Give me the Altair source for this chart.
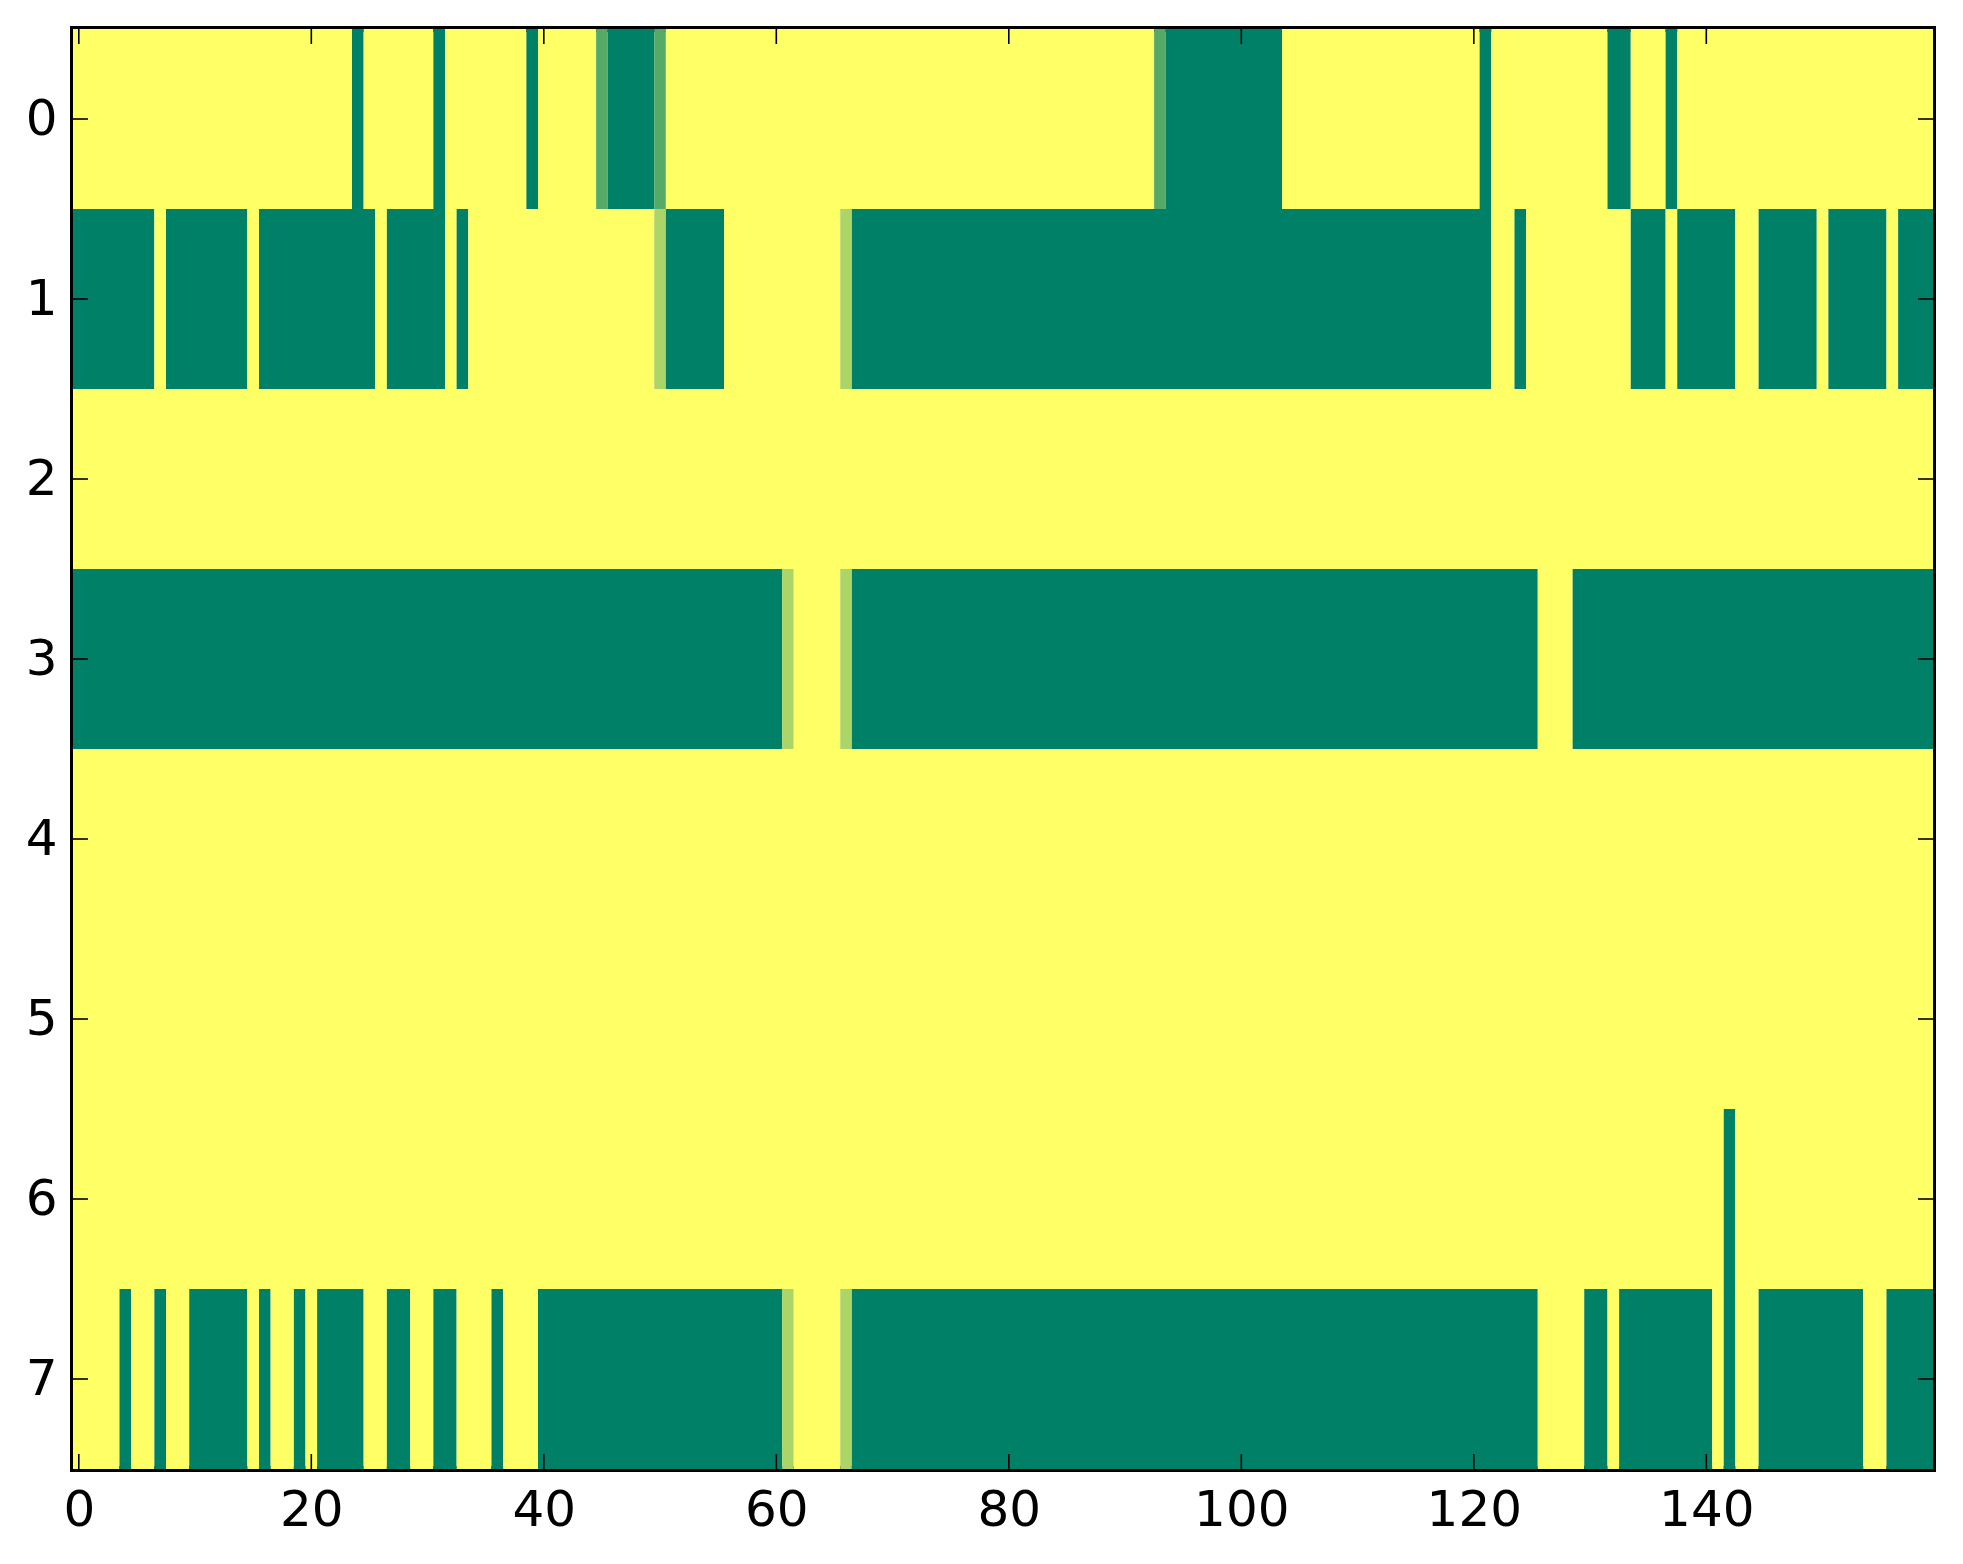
import altair as alt
import pandas as pd

# ---- data (value 0 = green, 1 = yellow) ----
n_cols = 160
row_labels = [0, 1, 2, 3, 4, 5, 6, 7]
x_tick_values = [0, 20, 40, 60, 80, 100, 120, 140]

# non-yellow segments per row: (first column, last column, value)
row0 = [(24, 24, 0), (31, 31, 0), (39, 39, 0), (45, 45, 0.33), (46, 49, 0),
        (50, 50, 0.33), (93, 93, 0.33), (94, 103, 0), (121, 121, 0),
        (132, 133, 0), (137, 137, 0)]
row1 = [(0, 6, 0), (8, 14, 0), (16, 25, 0), (27, 31, 0), (33, 33, 0),
        (50, 50, 0.67), (51, 55, 0), (66, 66, 0.67), (67, 121, 0),
        (124, 124, 0), (134, 136, 0), (138, 142, 0), (145, 149, 0),
        (151, 155, 0), (157, 159, 0)]
row2 = []
row3 = [(0, 60, 0), (61, 61, 0.67), (66, 66, 0.67), (67, 125, 0), (129, 159, 0)]
row4 = []
row5 = []
row6 = [(142, 142, 0)]
row7 = [(4, 4, 0), (7, 7, 0), (10, 14, 0), (16, 16, 0), (19, 19, 0),
        (21, 24, 0), (27, 28, 0), (31, 32, 0), (36, 36, 0), (40, 60, 0),
        (61, 61, 0.67), (66, 66, 0.67), (67, 125, 0), (130, 131, 0),
        (133, 140, 0), (142, 142, 0), (145, 153, 0), (156, 159, 0)]
rows = [row0, row1, row2, row3, row4, row5, row6, row7]

records = []
for r, segs in zip(row_labels, rows):
    pos = 0
    for a, b, v in sorted(segs):
        if a > pos:
            records.append(dict(row=r, x0=pos - 0.5, x1=a - 0.5, v=1.0))
        records.append(dict(row=r, x0=a - 0.5, x1=b + 0.5, v=float(v)))
        pos = b + 1
    if pos < n_cols:
        records.append(dict(row=r, x0=pos - 0.5, x1=n_cols - 0.5, v=1.0))
df = pd.DataFrame(records)
df["y0"] = df["row"] - 0.5
df["y1"] = df["row"] + 0.5

W, H = 1860, 1440
TICK = 15
FONT = "DejaVu Sans"

xs = alt.Scale(domain=[-0.5, n_cols - 0.5], nice=False, zero=False)
ys = alt.Scale(domain=[-0.5, 7.5], nice=False, zero=False, reverse=True)

x_axis = alt.Axis(values=x_tick_values, ticks=False, domain=False, grid=False,
                  labelFontSize=50, labelFont=FONT, labelColor="black",
                  labelPadding=16, title=None, format="d", labelFlush=False)
y_axis = alt.Axis(values=row_labels, ticks=False, domain=False, grid=False,
                  labelFontSize=50, labelFont=FONT, labelColor="black",
                  labelPadding=16, title=None, format="d", labelFlush=False)

heat = alt.Chart(df).mark_rect().encode(
    x=alt.X("x0:Q", scale=xs, axis=x_axis),
    x2="x1:Q",
    y=alt.Y("y0:Q", scale=ys, axis=y_axis),
    y2="y1:Q",
    color=alt.Color("v:Q", legend=None,
                    scale=alt.Scale(domain=[0, 1], range=["#008066", "#ffff66"],
                                    interpolate="rgb")),
)

tx = pd.DataFrame({"t": x_tick_values})
ty = pd.DataFrame({"t": row_labels})
rule_style = dict(color="black", strokeWidth=1.6)

tick_bottom = alt.Chart(tx).mark_rule(**rule_style).encode(
    x=alt.X("t:Q", scale=xs, axis=x_axis), y=alt.value(H - TICK), y2=alt.value(H))
tick_top = alt.Chart(tx).mark_rule(**rule_style).encode(
    x=alt.X("t:Q", scale=xs, axis=x_axis), y=alt.value(0), y2=alt.value(TICK))
tick_left = alt.Chart(ty).mark_rule(**rule_style).encode(
    y=alt.Y("t:Q", scale=ys, axis=y_axis), x=alt.value(0), x2=alt.value(TICK))
tick_right = alt.Chart(ty).mark_rule(**rule_style).encode(
    y=alt.Y("t:Q", scale=ys, axis=y_axis), x=alt.value(W - TICK), x2=alt.value(W))

chart = alt.layer(heat, tick_bottom, tick_top, tick_left, tick_right).properties(
    width=W, height=H,
    padding={"left": 65, "top": 21, "right": 22, "bottom": 80},
    autosize=alt.AutoSizeParams(type="none"),
).configure_view(stroke="black", strokeWidth=6)

chart.save("out.html", embed_options={"renderer": "svg", "actions": False})
